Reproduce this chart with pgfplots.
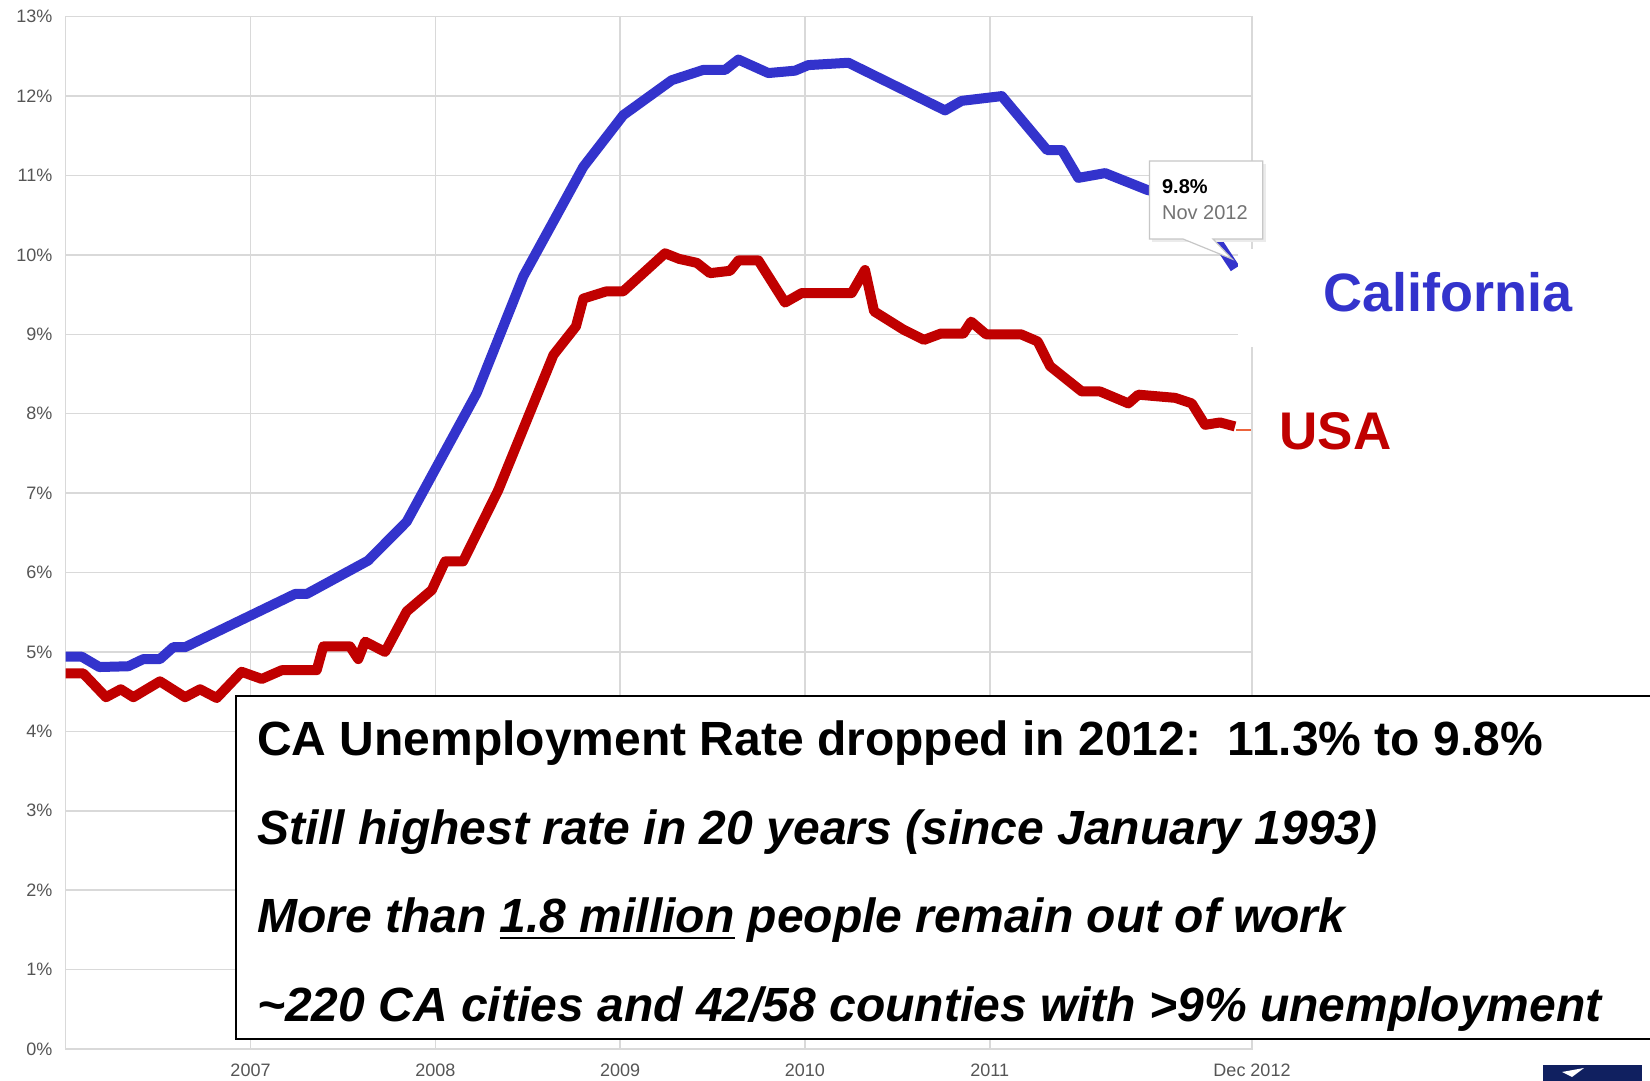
\documentclass[border=0pt]{standalone}
\usepackage{pgfplots}
\pgfplotsset{compat=1.18}
\usepackage{fontspec}
\setmainfont{Liberation Sans}
\definecolor{cablue}{RGB}{51,51,204}
\definecolor{usred}{RGB}{192,0,0}
\definecolor{gridgray}{RGB}{217,217,217}
\definecolor{tickgray}{RGB}{85,85,85}
\definecolor{tailorange}{RGB}{236,100,60}
\definecolor{navy}{RGB}{16,32,96}
\newcommand\ulthick[1]{\setbox0\hbox{#1}\rlap{\rule[-3.5pt]{\wd0}{1.3pt}}\box0\relax}

\pgfplotstableread{
x y
2006.000 4.94
2006.087 4.94
2006.182 4.81
2006.339 4.82
2006.420 4.91
2006.510 4.91
2006.582 5.06
2006.646 5.06
2007.241 5.73
2007.304 5.73
2007.636 6.15
2007.845 6.64
2008.224 8.26
2008.476 9.73
2008.801 11.11
2009.017 11.76
2009.279 12.20
2009.450 12.33
2009.568 12.33
2009.640 12.46
2009.802 12.29
2009.946 12.32
2010.018 12.39
2010.235 12.42
2010.758 11.82
2010.848 11.94
2011.065 12.00
2011.310 11.32
2011.390 11.32
2011.479 10.97
2011.624 11.03
2011.850 10.82
2012.084 10.69
2012.327 9.83
}\catable

\pgfplotstableread{
x y
2006.000 4.73
2006.095 4.73
2006.218 4.43
2006.298 4.53
2006.366 4.43
2006.510 4.63
2006.646 4.43
2006.727 4.53
2006.817 4.42
2006.952 4.75
2007.061 4.66
2007.169 4.77
2007.358 4.77
2007.394 5.07
2007.538 5.07
2007.583 4.91
2007.620 5.13
2007.728 5.00
2007.845 5.51
2007.981 5.78
2008.053 6.14
2008.150 6.14
2008.341 7.04
2008.639 8.74
2008.761 9.10
2008.801 9.45
2008.924 9.54
2009.016 9.54
2009.243 10.02
2009.319 9.95
2009.415 9.90
2009.486 9.77
2009.595 9.80
2009.640 9.93
2009.748 9.93
2009.892 9.40
2009.983 9.52
2010.253 9.52
2010.325 9.81
2010.374 9.29
2010.532 9.06
2010.644 8.93
2010.736 9.01
2010.857 9.01
2010.899 9.16
2010.980 9.00
2011.169 9.00
2011.259 8.91
2011.326 8.60
2011.498 8.28
2011.597 8.28
2011.750 8.13
2011.804 8.24
2012.003 8.20
2012.093 8.13
2012.165 7.86
2012.246 7.89
2012.327 7.84
}\ustable

\begin{document}
\begin{tikzpicture}
\useasboundingbox (0,0) rectangle (825pt,540.5pt);
\fill[white] (0,0) rectangle (825pt,540.5pt);
\begin{axis}[
  at={(32.85pt,16pt)}, anchor=south west,
  scale only axis, width=593.15pt, height=516.15pt,
  xmin=2006, xmax=2012.419, ymin=0, ymax=13,
  xtick={2007,2008,2009,2010,2011,2012.419},
  xticklabels={2007,2008,2009,2010,2011,Dec 2012},
  ytick={0,1,2,3,4,5,6,7,8,9,10,11,12,13},
  yticklabels={0\%,1\%,2\%,3\%,4\%,5\%,6\%,7\%,8\%,9\%,10\%,11\%,12\%,13\%},
  grid=major, major grid style={gridgray, line width=0.75pt},
  axis line style={gridgray, line width=0.75pt},
  major tick length=0pt,
  tick label style={font=\fontsize{9}{10}\selectfont, text=tickgray, inner sep=0pt},
  yticklabel style={anchor=east, xshift=-6.5pt},
  xticklabel style={anchor=north, yshift=-7.5pt},
]
\addplot[cablue, line width=5pt, line join=round] table[x=x,y=y] {\catable};
\addplot[usred, line width=5pt, line join=round] table[x=x,y=y] {\ustable};
\addplot[tailorange, line width=1pt] coordinates {(2012.333,7.80) (2012.412,7.80)};
\end{axis}
% white gap behind label area
\fill[white] (619pt,367pt) rectangle (636pt,416pt);
% tooltip
\fill[black!8] (576.2pt,419.5pt) rectangle (632.9pt,458.5pt);
\draw[black!22, fill=white, line width=0.6pt] (574.7pt,421pt) -- (591.5pt,421pt) -- (616pt,411pt) -- (606.5pt,421pt) -- (631.4pt,421pt) -- (631.4pt,460pt) -- (574.7pt,460pt) -- cycle;
\node[anchor=base west, inner sep=0pt, font=\fontsize{10}{12}\selectfont\bfseries] at (580.85pt,443.5pt) {9.8\%};
\node[anchor=base west, inner sep=0pt, text=black!55, font=\fontsize{10}{12}\selectfont] at (580.85pt,430.5pt) {Nov 2012};
% series labels
\node[anchor=base west, inner sep=0pt, text=cablue, font=\fontsize{27}{30}\selectfont\bfseries] at (661.5pt,384.65pt) {California};
\node[anchor=base west, inner sep=0pt, text=usred, font=\fontsize{26.5}{30}\selectfont\bfseries] at (639.5pt,315.5pt) {USA};
% text box
\draw[black, line width=1pt, fill=white] (117.85pt,21.2pt) rectangle (830pt,192.7pt);
\node[anchor=base west, inner sep=0pt, font=\fontsize{24}{28}\selectfont\bfseries] at (128.4pt,162.7pt) {CA Unemployment Rate dropped in 2012:\ \ 11.3\% to 9.8\%};
\node[anchor=base west, inner sep=0pt, font=\fontsize{24}{28}\selectfont\bfseries\itshape] at (128.4pt,118pt) {Still highest rate in 20 years (since January 1993)};
\node[anchor=base west, inner sep=0pt, font=\fontsize{24}{28}\selectfont\bfseries\itshape] at (128.4pt,74.35pt) {More than \ulthick{1.8 million} people remain out of work};
\node[anchor=base west, inner sep=0pt, font=\fontsize{24}{28}\selectfont\bfseries\itshape] at (128.4pt,29.6pt) {\char`\~220 CA cities and 42/58 counties with >9\% unemployment};
% logo fragment
\fill[navy] (771.5pt,0pt) rectangle (821pt,8pt);
\fill[white] (781pt,4.5pt) -- (792pt,6.5pt) -- (786pt,2pt) -- (784pt,3pt) -- cycle;
\end{tikzpicture}
\end{document}
